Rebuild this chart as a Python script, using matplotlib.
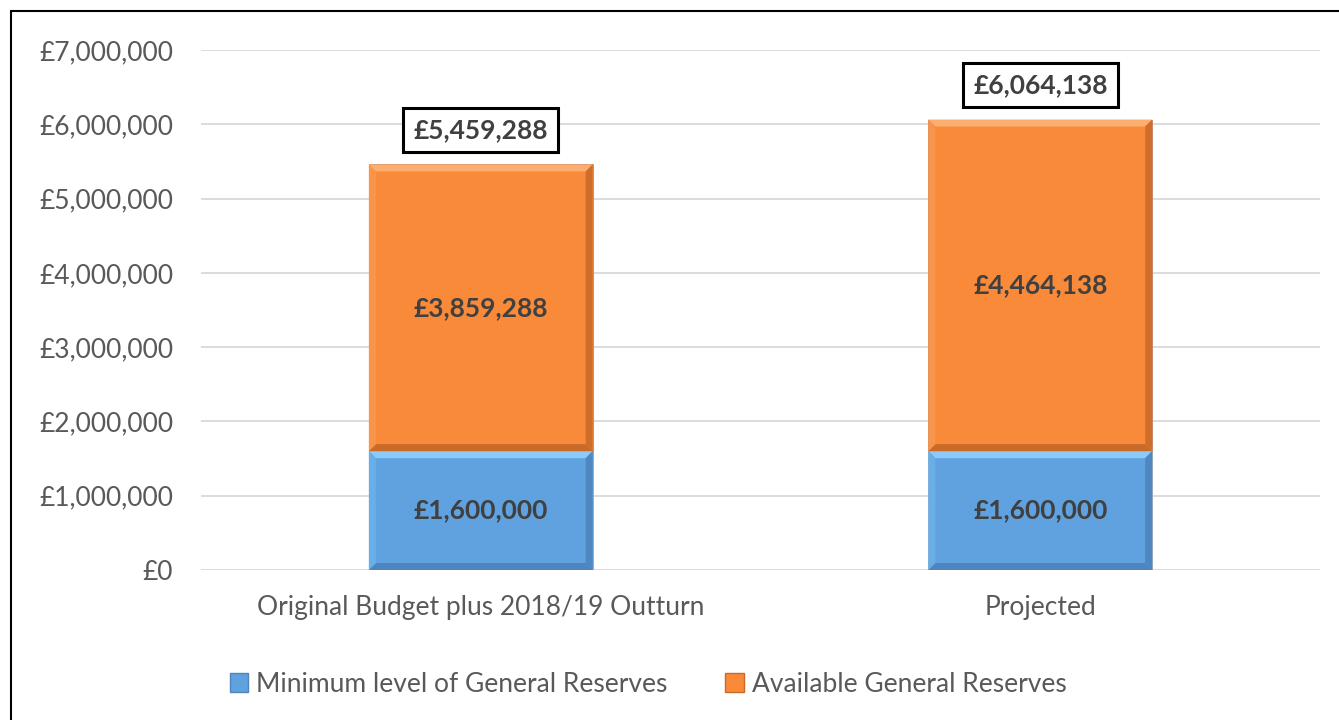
import numpy as np
import matplotlib
matplotlib.use('Agg')
import matplotlib.pyplot as plt
from matplotlib.patches import Polygon, Rectangle, Patch
from matplotlib.ticker import FuncFormatter

# Reserve figures (GBP)
categories = ['Original Budget plus 2018/19 Outturn', 'Projected']
minimum_level = [1600000, 1600000]
available = [3859288, 4464138]
series_names = ['Minimum level of General Reserves', 'Available General Reserves']

BLUE = '#5fa2df'
ORANGE = '#f88a3a'
TEXT = '#595959'
LABEL = '#404040'
FS = 19

plt.rcParams['font.family'] = ['Lato', 'DejaVu Sans']

W, H = 1339, 720
fig = plt.figure(figsize=(W / 100, H / 100), dpi=100)
ax = fig.add_axes([201 / W, 150 / H, (1320 - 201) / W, 520 / H])

x = np.arange(len(categories))
totals = [m + a for m, a in zip(minimum_level, available)]

bars_min = ax.bar(x, minimum_level, width=0.4, color=BLUE,
                  edgecolor='#9aa8b5', linewidth=0.6, zorder=3)
bars_av = ax.bar(x, available, width=0.4, bottom=minimum_level, color=ORANGE,
                 edgecolor='#c0876a', linewidth=0.6, zorder=3)

ax.set_xlim(-0.5, 1.5)
ax.set_ylim(0, 7000000)
ax.set_yticks(np.arange(0, 7000001, 1000000))
ax.yaxis.set_major_formatter(FuncFormatter(lambda v, p: '£{:,.0f}'.format(v)))
ax.set_xticks(x)
ax.set_xticklabels(categories)
ax.tick_params(axis='y', length=0, pad=20, labelsize=FS, labelcolor=TEXT)
ax.tick_params(axis='x', length=0, pad=18, labelsize=FS, labelcolor=TEXT)
ax.grid(axis='y', color='#d9d9d9', linewidth=1.3, zorder=0)
for s in ax.spines.values():
    s.set_visible(False)


def bevel(bar, light, dark, side_light, side_dark, px=7):
    """Shade the four edges of a bar so it looks raised."""
    x0, y0 = bar.get_x(), bar.get_y()
    x1, y1 = x0 + bar.get_width(), y0 + bar.get_height()
    (dx0, dy0), (dx1, dy1) = ax.transData.transform([(0, 0), (1, 1)])
    bx = px / (dx1 - dx0)
    by = px / (dy1 - dy0)
    edges = [
        ([(x0, y1), (x1, y1), (x1 - bx, y1 - by), (x0 + bx, y1 - by)], light),
        ([(x0, y0), (x1, y0), (x1 - bx, y0 + by), (x0 + bx, y0 + by)], dark),
        ([(x0, y0), (x0, y1), (x0 + bx, y1 - by), (x0 + bx, y0 + by)], side_light),
        ([(x1, y0), (x1, y1), (x1 - bx, y1 - by), (x1 - bx, y0 + by)], side_dark),
    ]
    for pts, c in edges:
        ax.add_patch(Polygon(pts, closed=True, facecolor=c, edgecolor='none',
                             zorder=4))


for b in bars_min:
    bevel(b, '#8ccaf7', '#4d86bf', '#6aaee8', '#4f88c0')
for b in bars_av:
    bevel(b, '#fbae70', '#c96a28', '#f9954a', '#cf6e2a')

# segment values inside the bars
for i in x:
    ax.text(i, minimum_level[i] / 2, '£{:,}'.format(minimum_level[i]),
            ha='center', va='center', fontsize=FS, fontweight='bold',
            color=LABEL, zorder=5)
    ax.text(i, minimum_level[i] + available[i] / 2, '£{:,}'.format(available[i]),
            ha='center', va='center', fontsize=FS, fontweight='bold',
            color=LABEL, zorder=5)
    # boxed total above each stack
    ax.annotate('£{:,}'.format(totals[i]), xy=(i, totals[i]),
                xytext=(0, 25), textcoords='offset points',
                ha='center', va='center', fontsize=FS, fontweight='bold',
                color=LABEL, zorder=6,
                bbox=dict(boxstyle='square,pad=0.38', facecolor='white',
                          edgecolor='black', linewidth=2.2))

handles = [Patch(facecolor=BLUE, edgecolor='#4d86bf', linewidth=1),
           Patch(facecolor=ORANGE, edgecolor='#c96a28', linewidth=1)]
fig.legend(handles, series_names, loc='center', bbox_to_anchor=(648 / W, 1 - 684 / H),
           ncol=2, frameon=False, fontsize=FS, labelcolor=TEXT,
           handlelength=0.7, handleheight=0.7, handletextpad=0.3,
           columnspacing=2.2)

# outer frame around the chart area
fig.patches.append(Rectangle((11 / W, -0.05), 1.2, 1.05 - 11 / H,
                             transform=fig.transFigure, fill=False,
                             edgecolor='black', linewidth=1.5))

fig.savefig('out.png', dpi=100)
